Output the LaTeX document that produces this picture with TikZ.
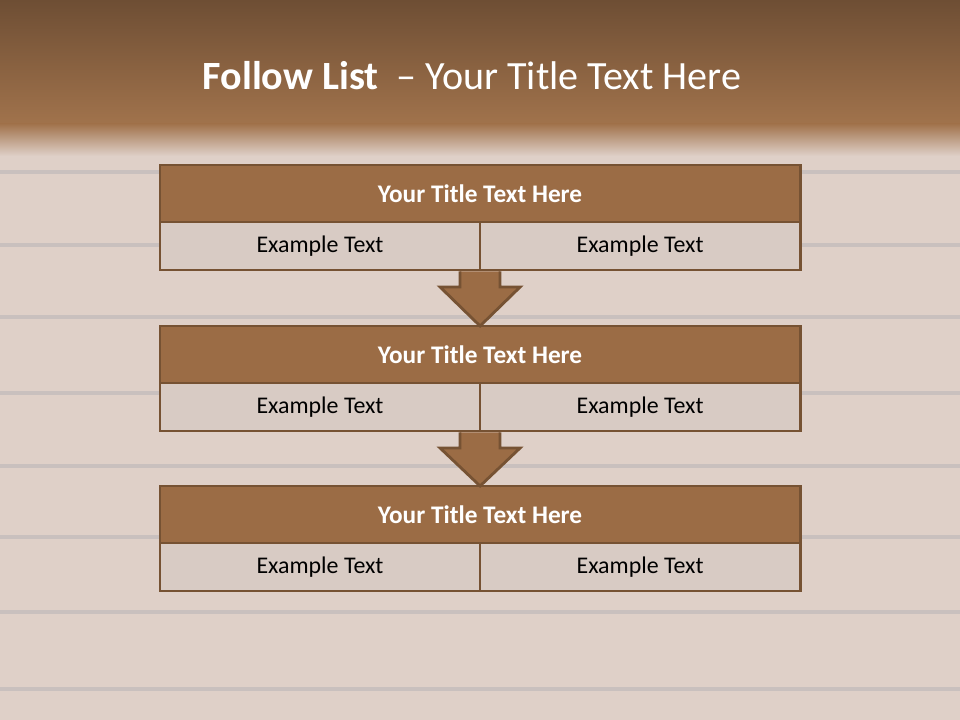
\documentclass[tikz,border=0pt]{standalone}
\usepackage{fontspec}
\setmainfont{Carlito}
\usepackage{tikz}
\usepackage{xcolor}
\usetikzlibrary{calc}
\definecolor{barb}{HTML}{9B6C45}
\definecolor{edgeb}{HTML}{765233}
\definecolor{cellg}{HTML}{D8CBC4}
\definecolor{topb}{HTML}{6E4E34}
\definecolor{midb}{HTML}{A1734C}
\definecolor{wood}{HTML}{DFD0C8}
\definecolor{woodd}{HTML}{E2C2AF}
\definecolor{seamc}{HTML}{C9C0BE}
\tikzset{
  bar/.style={draw=edgeb, fill=barb, line width=2pt, anchor=north west, inner sep=0pt,
              outer sep=0pt, minimum width=16cm, minimum height=1.425cm, text=white,
              font=\bfseries\fontsize{18}{22}\selectfont},
  cell/.style={draw=edgeb, fill=cellg, line width=2pt, anchor=north west, inner sep=0pt,
               outer sep=0pt, minimum width=8cm, minimum height=1.2cm, text=black,
               font=\fontsize{17}{20}\selectfont},
  dnarr/.style={draw=edgeb, fill=barb, line width=2pt, line join=miter},
  seam/.style={draw=seamc, line width=2.2pt},
  streak/.style={top color=wood, middle color=woodd, bottom color=wood},
  ttl/.style={text=white, font=\fontsize{28.5}{34}\selectfont},
}

\begin{document}
\begin{tikzpicture}[x=0.025cm, y=-0.025cm]
  \useasboundingbox (0,0) rectangle (960,720);
  % ---------------- background ----------------
  \fill[wood] (0,120) rectangle (960,720);
  \foreach \a/\b in {148/172, 246/300, 318/350, 394/436, 467/510, 538/575, 613/640, 690/720}
    \shade[streak] (0,\a) rectangle (960,\b);
  \foreach \y in {172,245,317,393,466,537,612,689}
    \draw[seam] (0,\y) -- (960,\y);
  \shade[top color=topb, bottom color=midb] (0,0) rectangle (960,125);
  \shade[top color=midb, bottom color=wood] (0,124) rectangle (960,156);
  \node[ttl] (head) at (472,76) {\textbf{Follow List}\ \ – Your Title Text Here};

  % ---------------- boxes ----------------
  \foreach \i/\y in {1/165, 2/326, 3/486}
  {
    \node[bar] (t\i) at (160,\y) {Your Title Text Here};
    \node[cell] (l\i) at (t\i.south west) {Example Text};
    \node[cell] (r\i) at (l\i.north east) {Example Text};
  }

  % ---------------- arrows ----------------
  \foreach \i/\j in {1/2, 2/3}
    \draw[dnarr] ($(l\i.south east)+(-20,1.4)$) -- ($(l\i.south east)+(-20,17)$)
      -- ($(l\i.south east)+(-40,17)$) -- (t\j.north) -- ($(l\i.south east)+(40,17)$)
      -- ($(l\i.south east)+(20,17)$) -- ($(l\i.south east)+(20,1.4)$);
\end{tikzpicture}
\end{document}
